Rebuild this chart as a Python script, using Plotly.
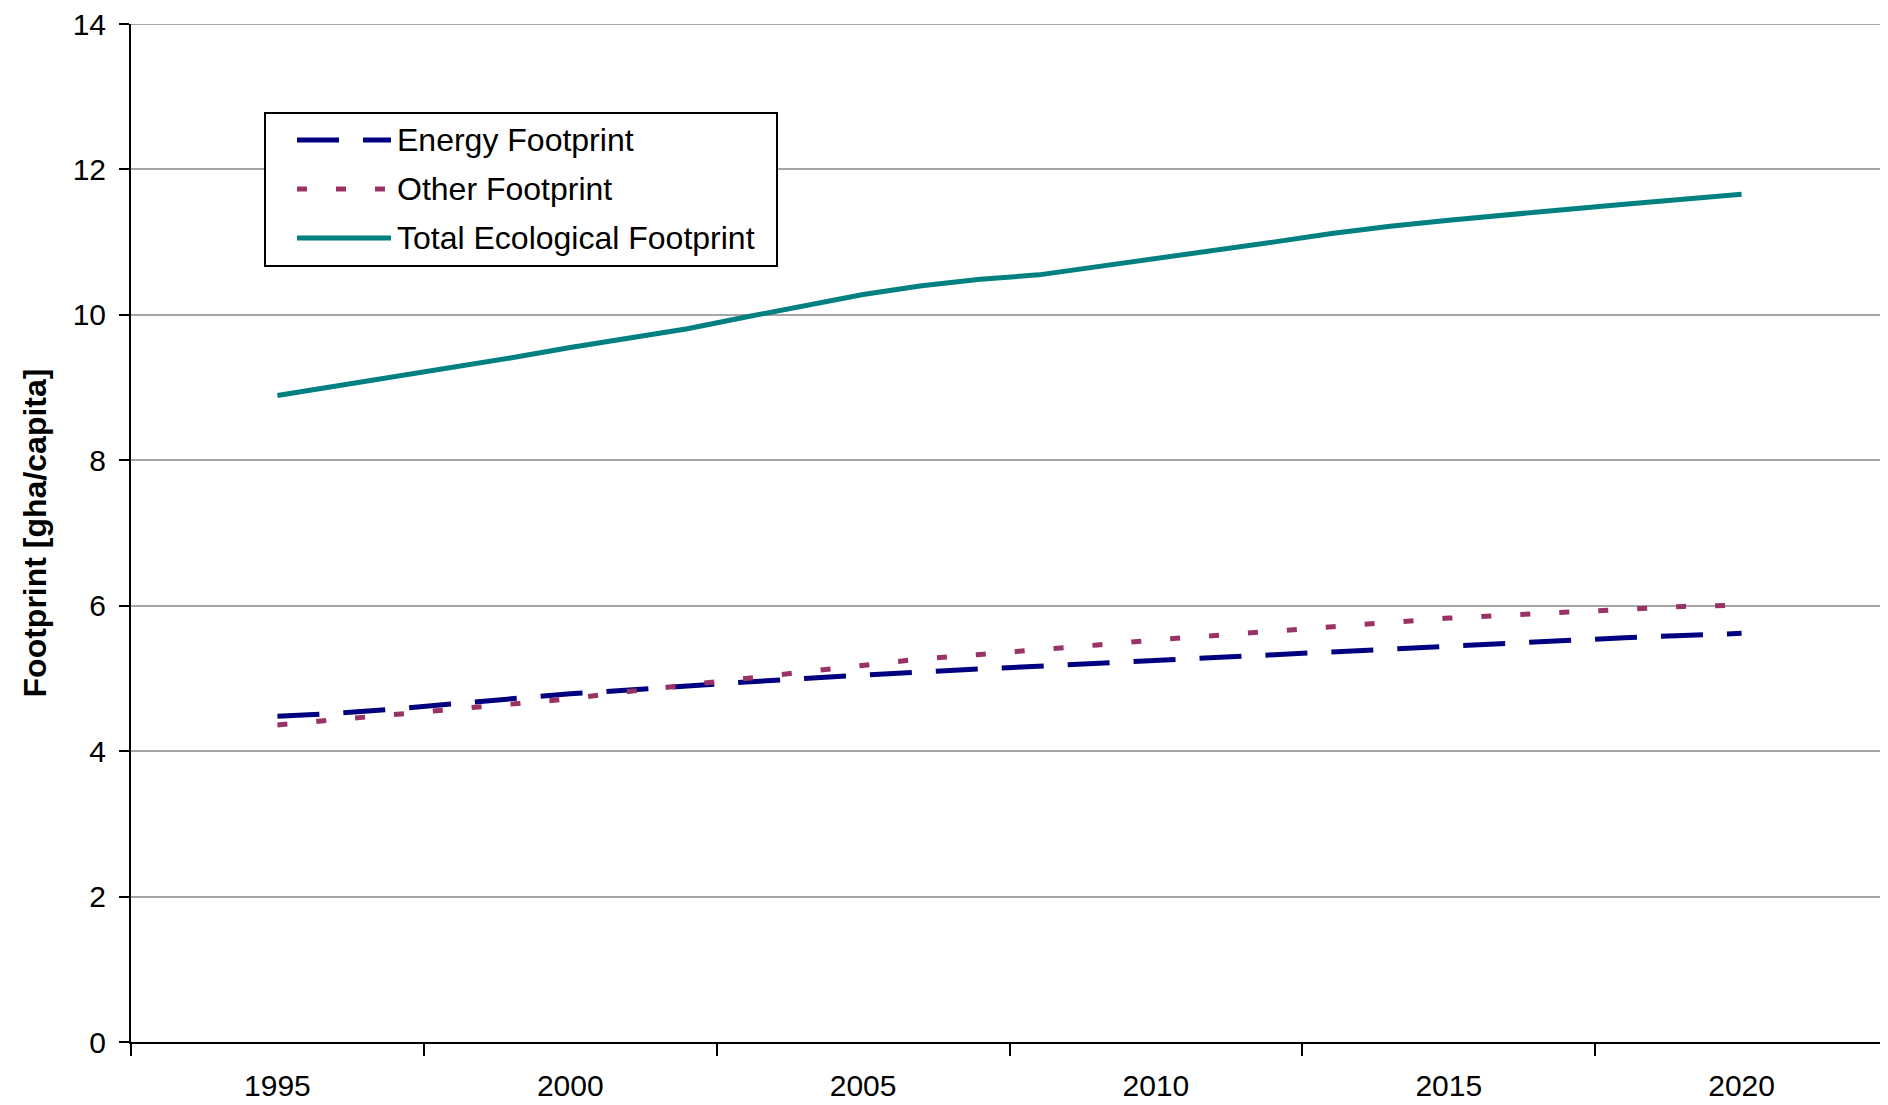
import plotly.graph_objects as go

years = list(range(1995, 2021))
energy = [4.48, 4.52, 4.58, 4.65, 4.72, 4.79, 4.84, 4.90, 4.95, 5.00,
          5.05, 5.09, 5.13, 5.17, 5.21, 5.25, 5.29, 5.33, 5.37, 5.41,
          5.45, 5.48, 5.52, 5.56, 5.59, 5.62]
other = [4.36, 4.43, 4.50, 4.57, 4.64, 4.72, 4.82, 4.91, 4.99, 5.08,
         5.18, 5.27, 5.33, 5.39, 5.46, 5.53, 5.59, 5.65, 5.72, 5.78,
         5.83, 5.87, 5.91, 5.95, 5.99, 6.01]
total = [8.89, 9.02, 9.14, 9.27, 9.41, 9.55, 9.68, 9.81, 9.97, 10.13,
         10.28, 10.40, 10.49, 10.55, 10.66, 10.77, 10.88, 11.00, 11.12, 11.22,
         11.30, 11.38, 11.45, 11.52, 11.59, 11.66]
series_names = ["Energy Footprint", "Other Footprint", "Total Ecological Footprint"]
x_labels = [1995, 2000, 2005, 2010, 2015, 2020]
x_bounds = [1992.5, 1997.5, 2002.5, 2007.5, 2012.5, 2017.5, 2022.5]
y_ticks = [0, 2, 4, 6, 8, 10, 12, 14]

FONT = "Liberation Sans, Arial, sans-serif"
OFF = 8  # default page body margin
W, H = 1888 - OFF, 1105 - OFF
ML, MR, MT, MB = 131 - OFF, 0, 24 - OFF, 63
PW, PH = W - ML - MR, H - MT - MB
GRID = "#a6a6a6"

styles = [dict(color="#000080", width=5, dash="42px,24px"),
          dict(color="#993366", width=5, dash="10px,29px"),
          dict(color="#008080", width=5)]

fig = go.Figure()
for name, vals, st in zip(series_names, [energy, other, total], styles):
    fig.add_trace(go.Scatter(x=years, y=vals, name=name, mode="lines",
                             line=st, showlegend=False))


def px_x(p):
    return (p - OFF - ML) / PW


def px_y(p):
    return (H - MB - (p - OFF)) / PH


# top gridline (plotly skips the gridline at the range end)
shapes = [dict(type="line", xref="paper", yref="y", x0=0, x1=1,
               y0=y_ticks[-1], y1=y_ticks[-1], line=dict(color=GRID, width=2),
               layer="below")]
# legend box drawn as layout decoration (long line samples like the original)
shapes.append(dict(type="rect", xref="paper", yref="paper",
                   x0=px_x(265), x1=px_x(777), y0=px_y(266), y1=px_y(113),
                   line=dict(color="#000000", width=2), fillcolor="white", layer="above"))
annotations = []
row_y = [140, 189, 238]
for name, st, ry in zip(series_names, styles, row_y):
    shapes.append(dict(type="line", xref="paper", yref="paper",
                       x0=px_x(297), x1=px_x(391), y0=px_y(ry), y1=px_y(ry),
                       line=st, layer="above"))
    annotations.append(dict(xref="paper", yref="paper", x=px_x(395), y=px_y(ry),
                            xanchor="left", yanchor="middle", showarrow=False,
                            text=name, font=dict(family=FONT, size=32, color="#000000")))

fig.update_layout(
    width=W, height=H,
    margin=dict(l=ML, r=MR, t=MT, b=MB),
    paper_bgcolor="white", plot_bgcolor="white",
    font=dict(family=FONT, size=30, color="#000000"),
    showlegend=False,
    shapes=shapes, annotations=annotations,
    xaxis=dict(range=[1992.5, 2022.5], tickmode="array", tickvals=x_labels,
               ticktext=[str(v) for v in x_labels], ticks="", showgrid=False,
               showline=True, linecolor="#000000", linewidth=2, zeroline=False,
               automargin=False, ticklabelstandoff=16, ticklabeloverflow="allow",
               minor=dict(tickmode="array", tickvals=x_bounds, ticks="outside",
                          ticklen=12, tickcolor="#000000", tickwidth=2, showgrid=False)),
    yaxis=dict(range=[0, 14], tickmode="array", tickvals=y_ticks, ticks="outside",
               ticklen=10, tickcolor="#000000", tickwidth=2, showline=True,
               linecolor="#000000", linewidth=2, showgrid=True, gridcolor=GRID,
               gridwidth=2, zeroline=False, ticklabelstandoff=7, automargin=False,
               ticklabeloverflow="allow",
               title=dict(text="<b>Footprint [gha/capita]</b>", standoff=16,
                          font=dict(family=FONT, size=32))),
)

fig.write_html("out.html")
